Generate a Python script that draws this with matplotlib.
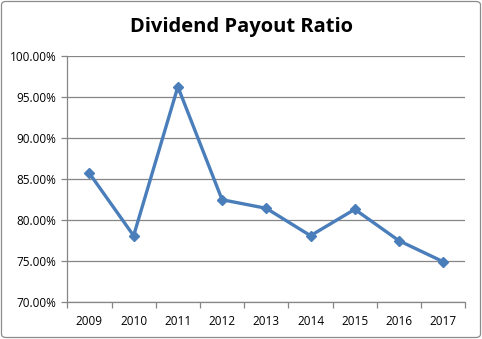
import matplotlib
matplotlib.use("Agg")
import matplotlib.pyplot as plt
from matplotlib.patches import FancyBboxPatch
from matplotlib.ticker import FuncFormatter, FixedLocator, NullFormatter
import numpy as np

years = ["2009", "2010", "2011", "2012", "2013", "2014", "2015", "2016", "2017"]
payout = [85.73, 78.12, 96.29, 82.51, 81.46, 78.12, 81.34, 77.51, 74.95]

W, H = 482, 339
fig = plt.figure(figsize=(W / 100, H / 100), dpi=100)
fig.patch.set_facecolor("white")

border = FancyBboxPatch((1.5 / W, 1.5 / H), (W - 3) / W, (H - 3) / H,
                        boxstyle="round,pad=0,rounding_size=0.01",
                        transform=fig.transFigure, fill=False,
                        edgecolor="#8c8c8c", linewidth=0.9)
fig.patches.append(border)

left, right, top, bottom = 67.3, 465.3, 56.3, 302.3
ax = fig.add_axes([left / W, 1 - bottom / H, (right - left) / W, (bottom - top) / H])

x = np.arange(len(years))
ax.plot(x, payout, color="#4A7EBB", linewidth=2.4, marker="D", markersize=5.5,
        markerfacecolor="#4A7EBB", markeredgecolor="#4A7EBB", zorder=3, clip_on=False)

ax.set_xlim(-0.5, len(years) - 0.5)
ax.set_ylim(70, 100)
ax.set_yticks(np.arange(70, 100.1, 5))
ax.yaxis.set_major_formatter(FuncFormatter(lambda v, p: f"{v:.2f}%"))
ax.grid(axis="y", color="#868686", linewidth=0.9)
ax.set_axisbelow(True)

ax.xaxis.set_major_locator(FixedLocator(np.arange(-0.5, len(years), 1.0)))
ax.xaxis.set_major_formatter(NullFormatter())
ax.xaxis.set_minor_locator(FixedLocator(x))
ax.xaxis.set_minor_formatter(FuncFormatter(lambda v, p: years[int(round(v))]))
ax.tick_params(axis="x", which="major", length=4, color="#868686", width=0.9, direction="out")
ax.tick_params(axis="x", which="minor", length=0, pad=9, labelsize=8.5)
ax.tick_params(axis="y", length=4, color="#868686", width=0.9, labelsize=8.5, pad=4)

for s in ["top", "right"]:
    ax.spines[s].set_visible(False)
for s in ["left", "bottom"]:
    ax.spines[s].set_color("#868686")
    ax.spines[s].set_linewidth(0.9)

for lbl in ax.get_xticklabels(minor=True) + ax.get_yticklabels():
    lbl.set_fontfamily(["Open Sans", "DejaVu Sans"])

fig.text(0.5, 1 - 27 / H, "Dividend Payout Ratio", ha="center", va="center",
         fontsize=14.5, fontweight="bold", family=["Open Sans", "DejaVu Sans"])

fig.savefig("out.png", dpi=100)
